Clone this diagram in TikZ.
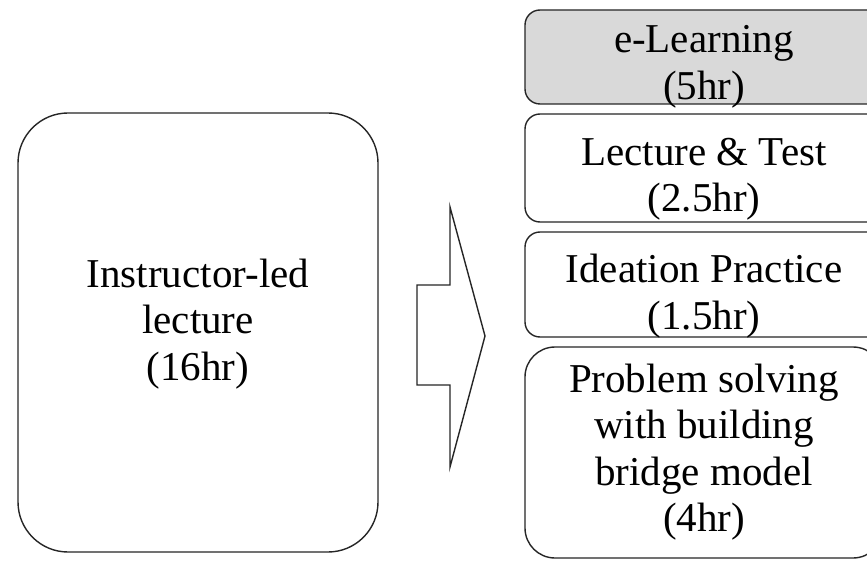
\documentclass[tikz,border=0pt]{standalone}
\usepackage{fontspec}
\setmainfont{Liberation Serif}
\begin{document}
\begin{tikzpicture}[x=1pt,y=-1pt]
\tikzset{
  boxline/.style={draw=black!85, line width=1.4pt},
  panel/.style={boxline, anchor=north west, inner sep=0pt, outer sep=0pt},
  lbl/.style={align=center, inner sep=0pt, font=\fontsize{41}{46.5}\selectfont},
}
\clip (0,0) rectangle (867,561);
\fill[white] (0,0) rectangle (867,561);
% left box
\node[panel, rounded corners=50pt, minimum width=360pt, minimum height=439pt] (lbox) at (18,113) {};
\node[lbl] (ltxt) at (198,324) {Instructor-led\\lecture\\(16hr)};
% block arrow
\draw[boxline, line join=miter, fill=white] (417,285) -- (450,285) -- (450,207) -- (485,336) -- (450,467) -- (450,385) -- (417,385) -- cycle;
% right boxes
\node[panel, fill=gray!30, rounded corners=15pt, minimum width=358pt, minimum height=94pt] (b1) at (525,10) {};
\node[panel, rounded corners=15pt, minimum width=358pt, minimum height=108pt] (b2) at (525,114) {};
\node[panel, rounded corners=15pt, minimum width=358pt, minimum height=105pt] (b3) at (525,232) {};
\node[panel, rounded corners=30pt, minimum width=358pt, minimum height=211pt] (b4) at (525,347) {};
\node[lbl] (t1) at (704,67) {e-Learning\\(5hr)};
\node[lbl] (t2) at (704,179) {Lecture \& Test\\(2.5hr)};
\node[lbl] (t3) at (704,296) {Ideation Practice\\(1.5hr)};
\node[lbl] (t4) at (704,452) {Problem solving\\with building\\bridge model\\(4hr)};
\end{tikzpicture}
\end{document}
